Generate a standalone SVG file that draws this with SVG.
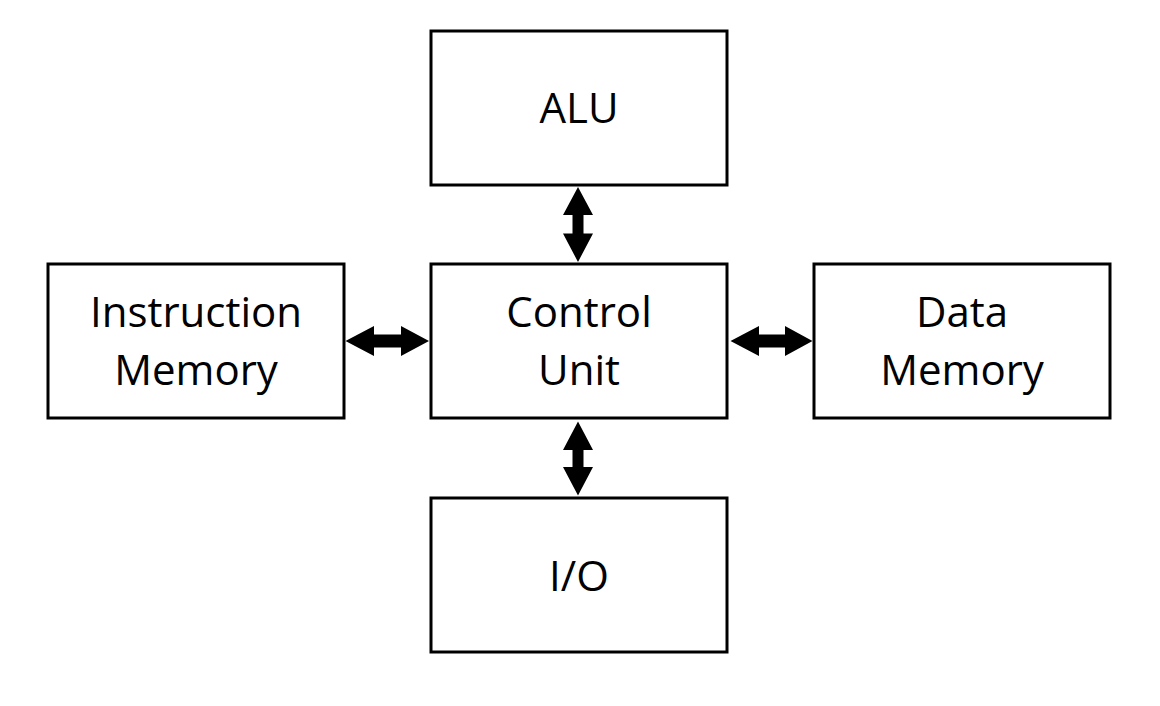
<svg xmlns="http://www.w3.org/2000/svg" width="1160" height="706" viewBox="0 0 1160 706">
<style>
.box{fill:#fff;stroke:#000;stroke-width:3}
.lbl{font-family:"Open Sans","Noto Sans",sans-serif;font-size:42px;fill:#000;text-anchor:middle}
.arr{fill:#000;stroke:none}
</style>
<rect width="1160" height="706" fill="#fff"/>
<g id="connectors">
<path class="arr" d="M578,187 L593,215 L583.5,215 L583.5,233.5 L593,233.5 L578,262 L563,233.5 L572.5,233.5 L572.5,215 L563,215 Z"/>
<path class="arr" d="M578,421.5 L593,450 L583.5,450 L583.5,467 L593,467 L578,495.5 L563,467 L572.5,467 L572.5,450 L563,450 Z"/>
<path class="arr" d="M345.5,341 L374,326 L374,334.5 L401,334.5 L401,326 L429,341 L401,356 L401,347.5 L374,347.5 L374,356 Z"/>
<path class="arr" d="M730.5,341 L759,326 L759,334.5 L785,334.5 L785,326 L812.5,341 L785,356 L785,347.5 L759,347.5 L759,356 Z"/>
</g>
<g id="alu">
<rect class="box" x="431" y="31" width="296" height="154"/>
<text class="lbl" x="579" y="123">ALU</text>
</g>
<g id="control-unit">
<rect class="box" x="431" y="264" width="296" height="154"/>
<text class="lbl" x="579" y="327">Control</text>
<text class="lbl" x="579" y="385">Unit</text>
</g>
<g id="instruction-memory">
<rect class="box" x="48" y="264" width="296" height="154"/>
<text class="lbl" x="196" y="327">Instruction</text>
<text class="lbl" x="196" y="385">Memory</text>
</g>
<g id="data-memory">
<rect class="box" x="814" y="264" width="296" height="154"/>
<text class="lbl" x="962" y="327">Data</text>
<text class="lbl" x="962" y="385">Memory</text>
</g>
<g id="io">
<rect class="box" x="431" y="498" width="296" height="154"/>
<text class="lbl" x="579" y="591">I/O</text>
</g>
</svg>
